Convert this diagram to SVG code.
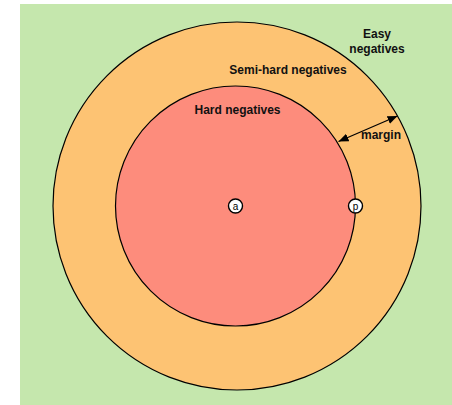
<svg xmlns="http://www.w3.org/2000/svg" width="452" height="405" viewBox="0 0 452 405">
  <style>
    .zone { stroke: #000; stroke-width: 1.2; }
    .lbl { font-family: "Liberation Sans", Arial, sans-serif; font-size: 12px; font-weight: bold; fill: #111; text-anchor: middle; }
    .pt { fill: #fff; stroke: #000; stroke-width: 1.4; }
    .ptl { font-family: "Liberation Sans", Arial, sans-serif; font-size: 10px; fill: #000; text-anchor: middle; }
    .conn { stroke: #000; stroke-width: 1.3; fill: none; }
  </style>
  <defs>
    <marker id="head" viewBox="0 0 10 10" refX="10" refY="5" markerWidth="10" markerHeight="10" markerUnits="userSpaceOnUse" orient="auto-start-reverse">
      <path d="M0,1 L10,5 L0,9 Z" fill="#000"/>
    </marker>
  </defs>

  <!-- easy negatives region -->
  <g id="easy">
    <rect x="20" y="4" width="432" height="401" fill="#c5e7ad"/>
    <text class="lbl" x="377" y="38">Easy</text>
    <text class="lbl" x="377" y="53">negatives</text>
  </g>

  <!-- semi-hard band -->
  <g id="semihard">
    <circle class="zone" cx="237" cy="206" r="184" fill="#fdc373"/>
    <text class="lbl" x="288" y="74">Semi-hard negatives</text>
  </g>

  <!-- hard negatives disc -->
  <g id="hard">
    <circle class="zone" cx="235.5" cy="206" r="120" fill="#fd8c7c"/>
    <text class="lbl" x="237.5" y="114">Hard negatives</text>
  </g>

  <!-- margin arrow -->
  <g id="connectors">
    <line class="conn" x1="338.5" y1="141.5" x2="397.5" y2="116" marker-start="url(#head)" marker-end="url(#head)"/>
  </g>
  <g id="margin">
    <text class="lbl" x="381" y="139">margin</text>
  </g>

  <!-- anchor and positive -->
  <g id="a">
    <circle class="pt" cx="235.5" cy="206" r="7"/>
    <text class="ptl" x="235.5" y="209.5">a</text>
  </g>
  <g id="p">
    <circle class="pt" cx="355.5" cy="206" r="7"/>
    <text class="ptl" x="355.5" y="209.5">p</text>
  </g>
</svg>
